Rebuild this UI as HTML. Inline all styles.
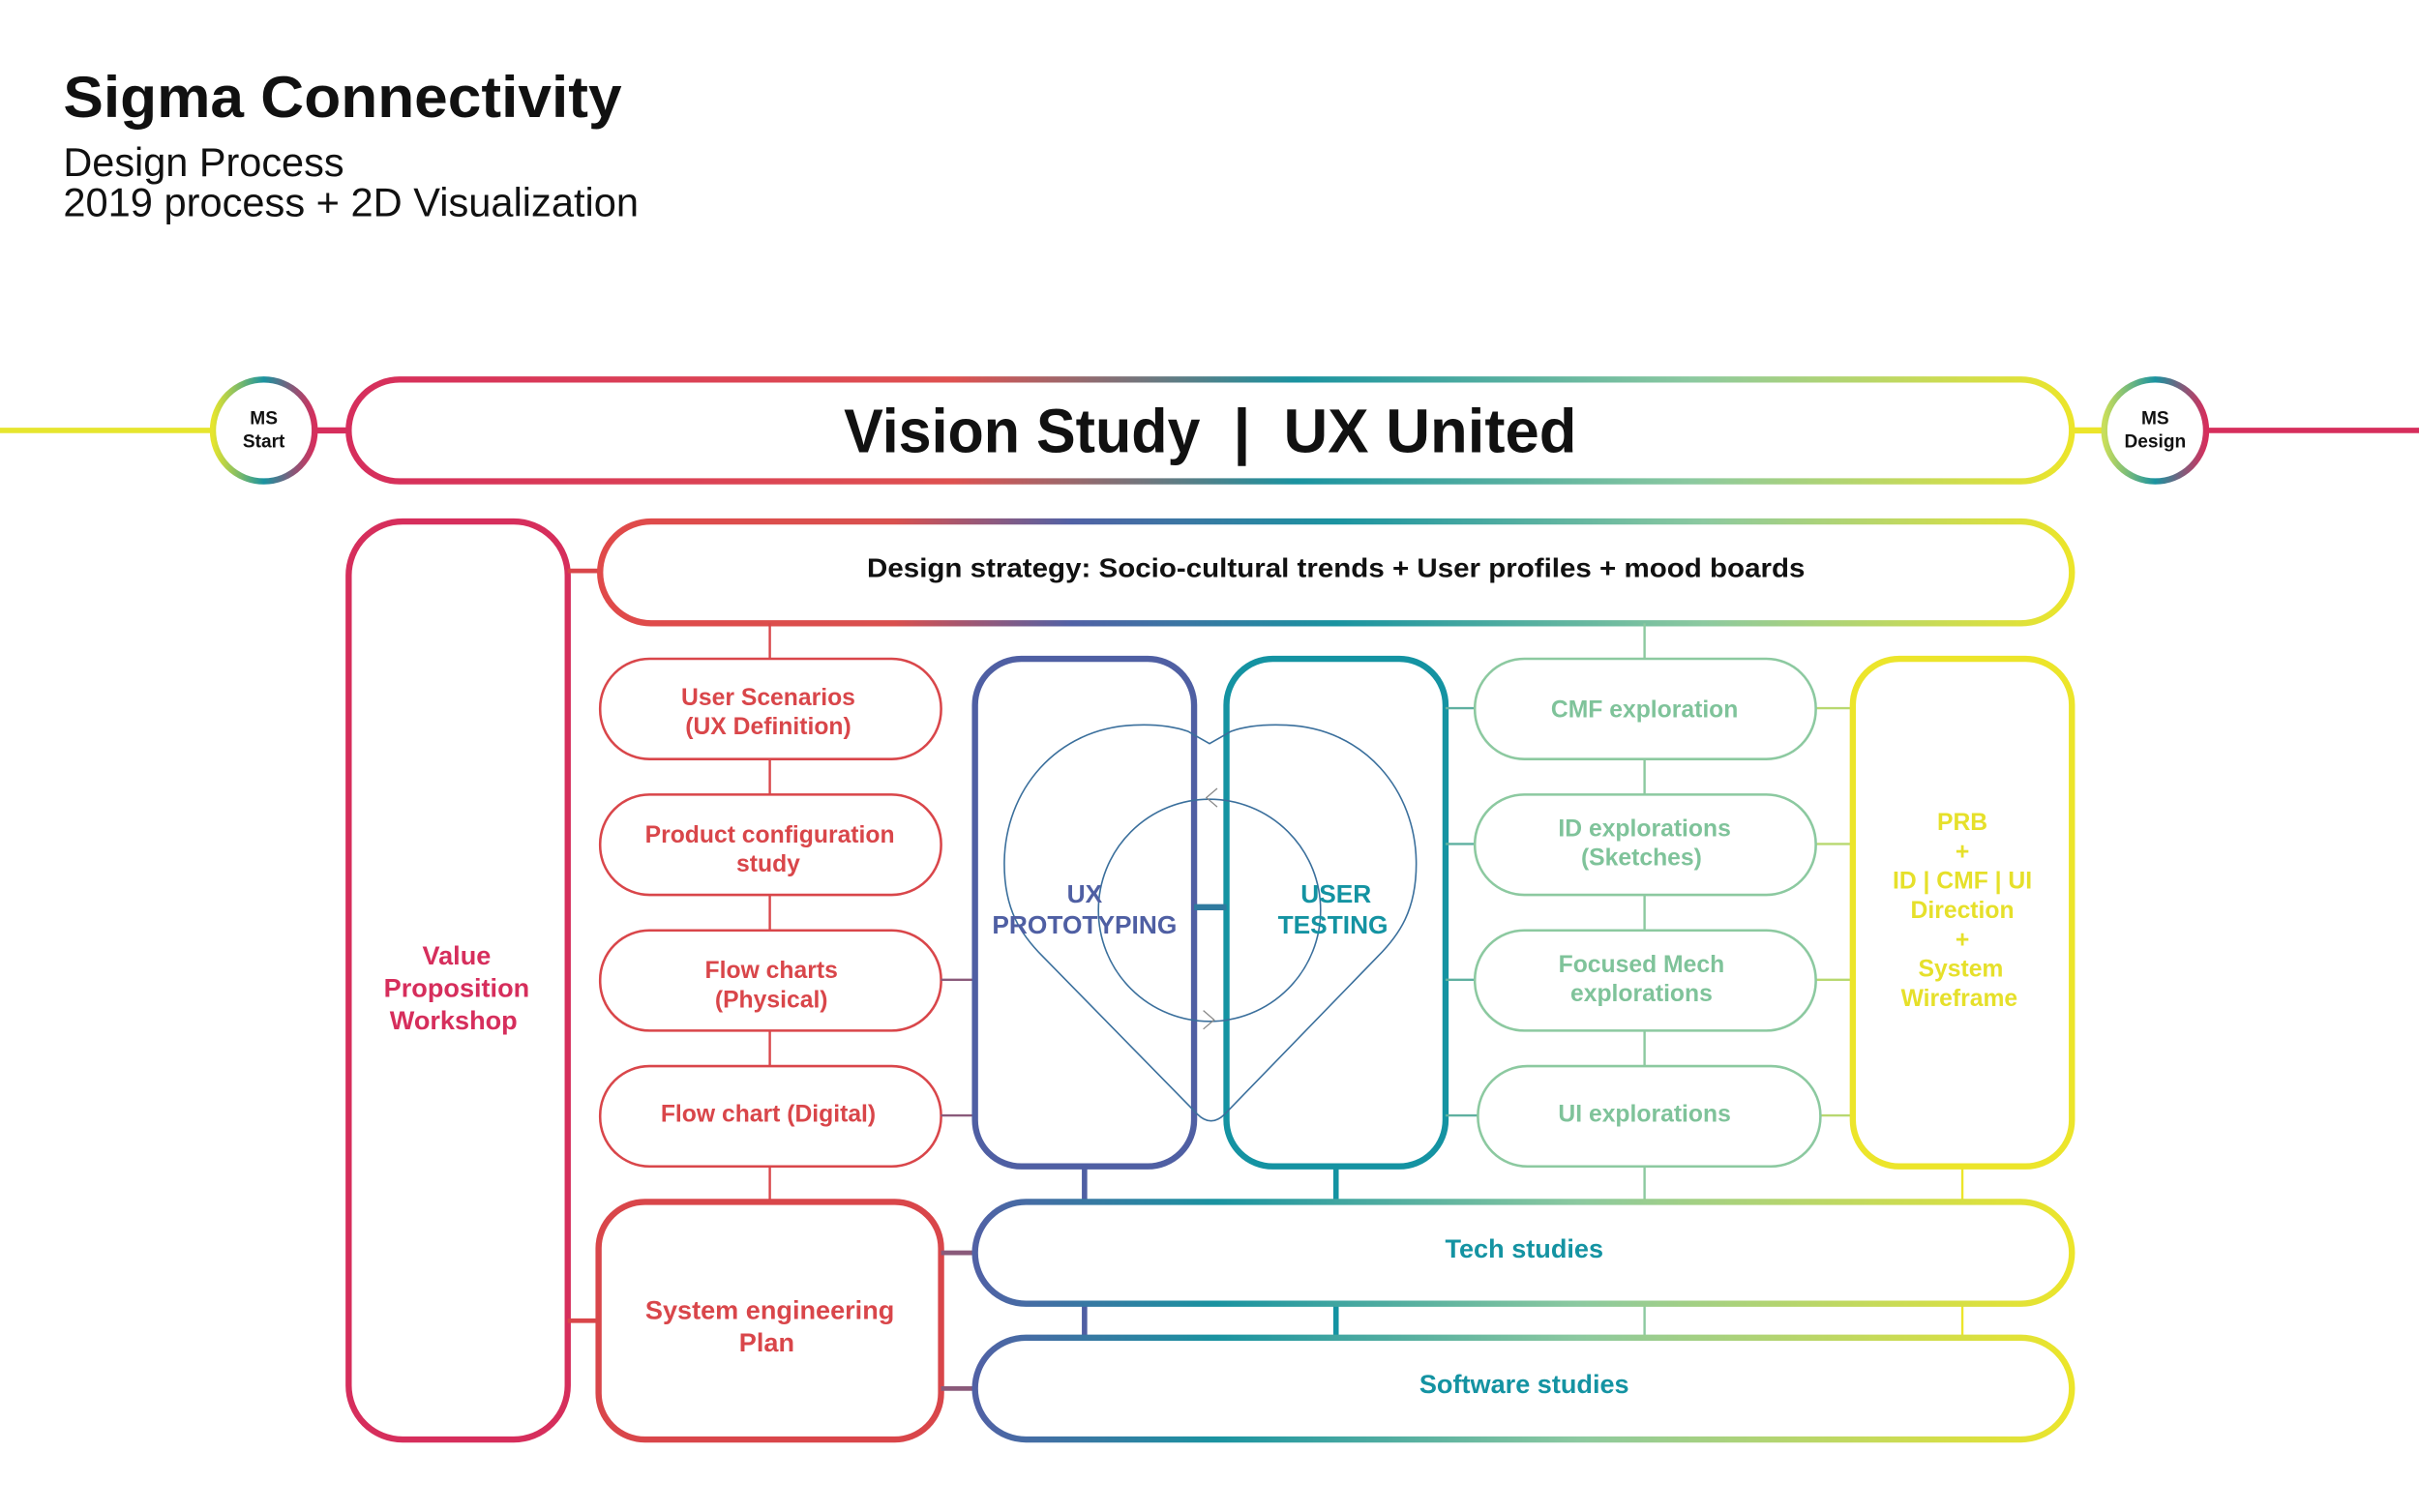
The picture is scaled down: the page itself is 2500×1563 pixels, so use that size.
<!DOCTYPE html>
<html><head><meta charset="utf-8"><style>
html,body{margin:0;padding:0;background:#fff;}
svg{display:block;}
text{font-family:"Liberation Sans",Arial,sans-serif;font-weight:bold;}
</style></head><body>
<svg width="2500" height="1563" viewBox="0 0 1568 980" preserveAspectRatio="none" xmlns="http://www.w3.org/2000/svg">
<defs>
<linearGradient id="gV" gradientUnits="userSpaceOnUse" x1="226" y1="0" x2="1343" y2="0">
<stop offset="0" stop-color="#d62e5c"/><stop offset="0.35" stop-color="#df5150"/><stop offset="0.55" stop-color="#1a93a0"/><stop offset="0.78" stop-color="#8cc9a0"/><stop offset="1" stop-color="#ece52a"/></linearGradient>
<linearGradient id="gD" gradientUnits="userSpaceOnUse" x1="389" y1="0" x2="1343" y2="0">
<stop offset="0" stop-color="#e04a4a"/><stop offset="0.2" stop-color="#d9504e"/><stop offset="0.32" stop-color="#5161a5"/><stop offset="0.5" stop-color="#1a93a0"/><stop offset="0.75" stop-color="#8cc9a0"/><stop offset="1" stop-color="#ece52a"/></linearGradient>
<linearGradient id="gT" gradientUnits="userSpaceOnUse" x1="632" y1="0" x2="1343" y2="0">
<stop offset="0" stop-color="#5161a5"/><stop offset="0.22" stop-color="#1a93a0"/><stop offset="0.55" stop-color="#8cc9a0"/><stop offset="1" stop-color="#ece52a"/></linearGradient>
<linearGradient id="gC1" x1="0" y1="0" x2="1" y2="0">
<stop offset="0" stop-color="#e6e52e"/><stop offset="0.5" stop-color="#1a93a0"/><stop offset="1" stop-color="#d62e5c"/></linearGradient>
<linearGradient id="gC2" x1="0" y1="0" x2="1" y2="0">
<stop offset="0" stop-color="#c9de5a"/><stop offset="0.5" stop-color="#1a93a0"/><stop offset="1" stop-color="#d62e5c"/></linearGradient>
</defs>

<!-- header -->
<text x="41" y="76" font-size="38" fill="#111" textLength="362" lengthAdjust="spacingAndGlyphs">Sigma Connectivity</text>
<text x="41" y="114" font-size="26" fill="#111" style="font-weight:normal" textLength="182" lengthAdjust="spacingAndGlyphs">Design Process</text>
<text x="41" y="140" font-size="26" fill="#111" style="font-weight:normal" textLength="373" lengthAdjust="spacingAndGlyphs">2019 process + 2D Visualization</text>

<!-- top line -->
<line x1="0" y1="279" x2="138" y2="279" stroke="#e6e52e" stroke-width="3.5"/>
<circle cx="171" cy="279" r="33" fill="#fff" stroke="url(#gC1)" stroke-width="4"/>
<text x="171" y="275" font-size="12" fill="#111" text-anchor="middle">MS</text>
<text x="171" y="290" font-size="12" fill="#111" text-anchor="middle">Start</text>
<line x1="204" y1="279" x2="226" y2="279" stroke="#d62e5c" stroke-width="4"/>
<rect x="226" y="246" width="1117" height="66" rx="33" fill="none" stroke="url(#gV)" stroke-width="4"/>
<text x="547" y="293" font-size="40" fill="#111" textLength="231" lengthAdjust="spacingAndGlyphs">Vision Study</text>
<text x="805" y="293" font-size="40" fill="#111" text-anchor="middle">|</text>
<text x="832" y="293" font-size="40" fill="#111" textLength="190" lengthAdjust="spacingAndGlyphs">UX United</text>
<line x1="1343" y1="279" x2="1364" y2="279" stroke="#ece52a" stroke-width="4"/>
<circle cx="1397" cy="279" r="33" fill="#fff" stroke="url(#gC2)" stroke-width="4"/>
<text x="1397" y="275" font-size="12" fill="#111" text-anchor="middle">MS</text>
<text x="1397" y="290" font-size="12" fill="#111" text-anchor="middle">Design</text>
<line x1="1430" y1="279" x2="1568" y2="279" stroke="#d62e5c" stroke-width="3.5"/>

<!-- value proposition -->
<rect x="226" y="338" width="142" height="595" rx="35" fill="none" stroke="#d62e5c" stroke-width="4"/>
<text font-size="17" fill="#d62e5c" text-anchor="middle"><tspan x="296" y="625">Value</tspan><tspan x="296" y="646">Proposition</tspan><tspan x="294" y="667">Workshop</tspan></text>
<line x1="368" y1="370" x2="389" y2="370" stroke="#d9464a" stroke-width="3"/>
<line x1="368" y1="856" x2="388" y2="856" stroke="#d9464a" stroke-width="3"/>

<!-- design strategy -->
<rect x="389" y="338" width="954" height="66" rx="33" fill="none" stroke="url(#gD)" stroke-width="4"/>
<text x="866" y="374" font-size="17.5" fill="#111" text-anchor="middle" textLength="608" lengthAdjust="spacingAndGlyphs">Design strategy: Socio-cultural trends + User profiles + mood boards</text>

<g stroke="#d9464a" stroke-width="1.5">
<line x1="499" y1="404" x2="499" y2="427"/><line x1="499" y1="492" x2="499" y2="515"/><line x1="499" y1="580" x2="499" y2="603"/><line x1="499" y1="668" x2="499" y2="691"/><line x1="499" y1="756" x2="499" y2="779"/>
</g>
<g stroke="#8cc9a0" stroke-width="1.5">
<line x1="1066" y1="404" x2="1066" y2="427"/><line x1="1066" y1="492" x2="1066" y2="515"/><line x1="1066" y1="580" x2="1066" y2="603"/><line x1="1066" y1="668" x2="1066" y2="691"/><line x1="1066" y1="756" x2="1066" y2="779"/><line x1="1066" y1="845" x2="1066" y2="867"/>
</g>

<!-- left pills -->
<g fill="none" stroke="#d9464a" stroke-width="1.6">
<rect x="389" y="427" width="221" height="65" rx="32"/>
<rect x="389" y="515" width="221" height="65" rx="32"/>
<rect x="389" y="603" width="221" height="65" rx="32"/>
<rect x="389" y="691" width="221" height="65" rx="32"/>
</g>
<g font-size="15.5" fill="#d9464a" text-anchor="middle">
<text x="498" y="457">User Scenarios</text><text x="498" y="476">(UX Definition)</text>
<text x="499" y="546">Product configuration</text><text x="498" y="565">study</text>
<text x="500" y="634">Flow charts</text><text x="500" y="653">(Physical)</text>
<text x="498" y="727">Flow chart (Digital)</text>
</g>
<g stroke="#8a5a7a" stroke-width="1.5">
<line x1="610" y1="635" x2="632" y2="635"/><line x1="610" y1="723" x2="632" y2="723"/>
</g>

<!-- UX / User testing -->
<rect x="632" y="427" width="142" height="329" rx="30" fill="none" stroke="#4f5fa3" stroke-width="4"/>
<rect x="795" y="427" width="142" height="329" rx="30" fill="none" stroke="#1493a2" stroke-width="4"/>
<line x1="774" y1="588" x2="795" y2="588" stroke="#2f7a9f" stroke-width="4"/>
<path d="M784,482 L770,474 Q755,469 735,470 C685,472 651,512 651,560 C651,590 662,606 676,620 L776,722 Q785,731 794,722 L893,620 C907,606 918,590 918,560 C918,512 884,472 834,470 Q812,469 798,474 Z" fill="none" stroke="#3a6f9c" stroke-width="1"/>
<circle cx="784" cy="590" r="72" fill="none" stroke="#3a6f9c" stroke-width="1"/>
<path d="M789,511 L782,517 L789,523" fill="none" stroke="#888" stroke-width="0.8"/>
<path d="M780,655 L787,661 L780,667" fill="none" stroke="#888" stroke-width="0.8"/>
<g font-size="16.5" text-anchor="middle">
<text x="703" y="585" fill="#4f5fa3">UX</text><text x="703" y="605" fill="#4f5fa3">PROTOTYPING</text>
<text x="866" y="585" fill="#1493a2">USER</text><text x="864" y="605" fill="#1493a2">TESTING</text>
</g>

<!-- right pills -->
<g stroke="#5fb0a0" stroke-width="1.5">
<line x1="937" y1="459" x2="956" y2="459"/><line x1="937" y1="547" x2="956" y2="547"/><line x1="937" y1="635" x2="956" y2="635"/><line x1="937" y1="723" x2="958" y2="723"/>
</g>
<g stroke="#b8d870" stroke-width="1.5">
<line x1="1177" y1="459" x2="1201" y2="459"/><line x1="1177" y1="547" x2="1201" y2="547"/><line x1="1177" y1="635" x2="1201" y2="635"/><line x1="1180" y1="723" x2="1201" y2="723"/>
</g>
<g fill="none" stroke="#8cc9a0" stroke-width="1.6">
<rect x="956" y="427" width="221" height="65" rx="32"/>
<rect x="956" y="515" width="221" height="65" rx="32"/>
<rect x="956" y="603" width="221" height="65" rx="32"/>
<rect x="958" y="691" width="222" height="65" rx="32"/>
</g>
<g font-size="15.5" fill="#7fc39a" text-anchor="middle">
<text x="1066" y="465">CMF exploration</text>
<text x="1066" y="542">ID explorations</text><text x="1064" y="561">(Sketches)</text>
<text x="1064" y="630">Focused Mech</text><text x="1064" y="649">explorations</text>
<text x="1066" y="727">UI explorations</text>
</g>

<!-- yellow box -->
<rect x="1201" y="427" width="142" height="329" rx="30" fill="none" stroke="#ece52a" stroke-width="4"/>
<g font-size="15.5" fill="#e6e02a" text-anchor="middle">
<text x="1272" y="538">PRB</text><text x="1272" y="557">+</text><text x="1272" y="576">ID | CMF | UI</text><text x="1272" y="595">Direction</text><text x="1272" y="614">+</text><text x="1271" y="633">System</text><text x="1270" y="652">Wireframe</text>
</g>

<line x1="703" y1="756" x2="703" y2="779" stroke="#4f5fa3" stroke-width="3.5"/>
<line x1="866" y1="756" x2="866" y2="779" stroke="#1493a2" stroke-width="3.5"/>
<line x1="1272" y1="756" x2="1272" y2="779" stroke="#ece52a" stroke-width="1.5"/>
<line x1="703" y1="845" x2="703" y2="867" stroke="#4f5fa3" stroke-width="3.5"/>
<line x1="866" y1="845" x2="866" y2="867" stroke="#1493a2" stroke-width="3.5"/>
<line x1="1272" y1="845" x2="1272" y2="867" stroke="#ece52a" stroke-width="1.5"/>

<!-- system engineering -->
<rect x="388" y="779" width="222" height="154" rx="30" fill="none" stroke="#d9464a" stroke-width="4"/>
<text font-size="17" fill="#d9464a" text-anchor="middle"><tspan x="499" y="855">System engineering</tspan><tspan x="497" y="876">Plan</tspan></text>
<line x1="610" y1="812" x2="632" y2="812" stroke="#8a5a7a" stroke-width="3"/>
<line x1="610" y1="900" x2="632" y2="900" stroke="#8a5a7a" stroke-width="3"/>

<!-- tech & software -->
<rect x="632" y="779" width="711" height="66" rx="33" fill="none" stroke="url(#gT)" stroke-width="4"/>
<text x="988" y="815" font-size="17" fill="#1493a2" text-anchor="middle">Tech studies</text>
<rect x="632" y="867" width="711" height="66" rx="33" fill="none" stroke="url(#gT)" stroke-width="4"/>
<text x="988" y="903" font-size="17" fill="#1493a2" text-anchor="middle">Software studies</text>
</svg>
</body></html>
